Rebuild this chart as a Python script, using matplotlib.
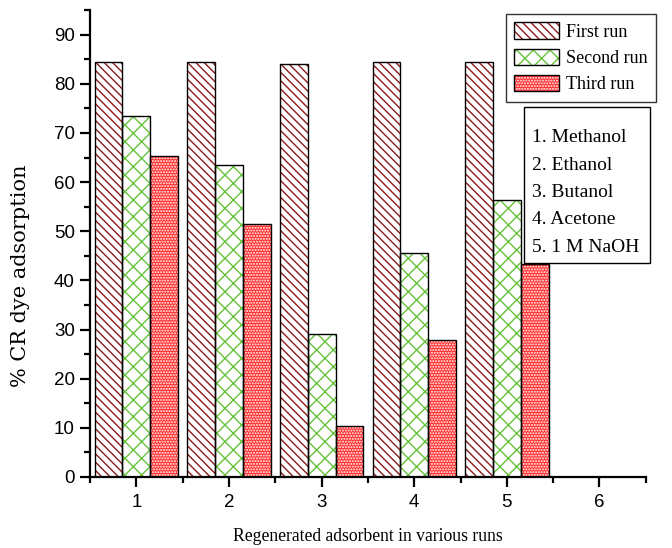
import matplotlib
matplotlib.use("Agg")
import matplotlib.pyplot as plt
from matplotlib.patches import Patch, Rectangle
from matplotlib.ticker import MultipleLocator, FixedLocator
from matplotlib.legend_handler import HandlerTuple
import numpy as np

# regeneration runs for each eluent (1-5)
positions = [1, 2, 3, 4, 5]
first_run = [84.5, 84.4, 84.0, 84.5, 84.4]
second_run = [73.5, 63.4, 29.0, 45.6, 56.4]
third_run = [65.3, 51.4, 10.4, 27.8, 43.3]
run_labels = ["First run", "Second run", "Third run"]
eluents = ["1. Methanol", "2. Ethanol", "3. Butanol", "4. Acetone", "5. 1 M NaOH"]

plt.rcParams["hatch.linewidth"] = 1.0

fig = plt.figure(figsize=(6.72, 5.48), dpi=100)
ax = fig.add_axes([0.134, 0.1296, 0.827, 0.852])

x = np.array(positions, dtype=float)
w = 0.3
styles = [
    dict(face="white", hatch="\\\\\\\\", hcolor="#8B1A1A"),
    dict(face="white", hatch="xx", hcolor="#66C23A"),
    dict(face="#FF2A2A", hatch="......", hcolor="white"),
]
handles = []
for off, vals, st in zip([-w, 0, w], [first_run, second_run, third_run], styles):
    # hatched fill, then a black outline on top
    ax.bar(x + off, vals, w, color=st["face"], hatch=st["hatch"],
           edgecolor=st["hcolor"], linewidth=0, zorder=2)
    ax.bar(x + off, vals, w, color="none", edgecolor="black", linewidth=1.0, zorder=3)
    h1 = Patch(facecolor=st["face"], hatch=st["hatch"], edgecolor=st["hcolor"], linewidth=0)
    h2 = Patch(facecolor="none", edgecolor="black", linewidth=1.0)
    handles.append((h1, h2))

ax.set_xlim(0.5, 6.5)
ax.set_ylim(0, 95)
ax.set_xticks([1, 2, 3, 4, 5, 6])
ax.xaxis.set_minor_locator(FixedLocator([0.5, 1.5, 2.5, 3.5, 4.5, 5.5, 6.5]))
ax.yaxis.set_major_locator(MultipleLocator(10))
ax.yaxis.set_minor_locator(MultipleLocator(5))
for s in ["top", "right"]:
    ax.spines[s].set_visible(False)
for s in ["left", "bottom"]:
    ax.spines[s].set_linewidth(1.6)
ax.tick_params(which="major", direction="out", length=7, width=1.6,
               labelsize=13.5, pad=4)
ax.tick_params(which="minor", direction="out", length=4, width=1.6)
ax.tick_params(axis="x", pad=5)
for lab in ax.get_xticklabels() + ax.get_yticklabels():
    lab.set_fontfamily("Liberation Sans")

ax.set_xlabel("Regenerated adsorbent in various runs", fontsize=12.7,
              fontfamily="Liberation Serif")
ax.xaxis.set_label_coords(0.5, -0.11)
ax.set_ylabel("% CR dye adsorption", fontsize=15, fontfamily="DejaVu Serif")
ax.yaxis.set_label_coords(-0.108, 0.43)

leg = ax.legend(handles, run_labels, loc="upper right", bbox_to_anchor=(1.018, 0.991),
                prop={"family": "Liberation Serif", "size": 13},
                frameon=True, fancybox=False, edgecolor="black",
                handlelength=2.5, handleheight=1.0, handletextpad=0.37,
                labelspacing=0.45, borderpad=0.45, borderaxespad=0,
                handler_map={tuple: HandlerTuple(ndivide=1)})
leg.get_frame().set_linewidth(1.0)

# eluent key: framed box with the list inside
ax.add_patch(Rectangle((0.7806, 0.4582), 0.2264, 0.3341, transform=ax.transAxes,
                       facecolor="white", edgecolor="black", linewidth=1.0,
                       clip_on=False, zorder=5))
ax.text(0.795, 0.745, "\n".join(eluents), transform=ax.transAxes,
        fontfamily="Liberation Serif", fontsize=14, va="top", ha="left",
        linespacing=1.8, zorder=6)

fig.savefig("out.png", dpi=100)
